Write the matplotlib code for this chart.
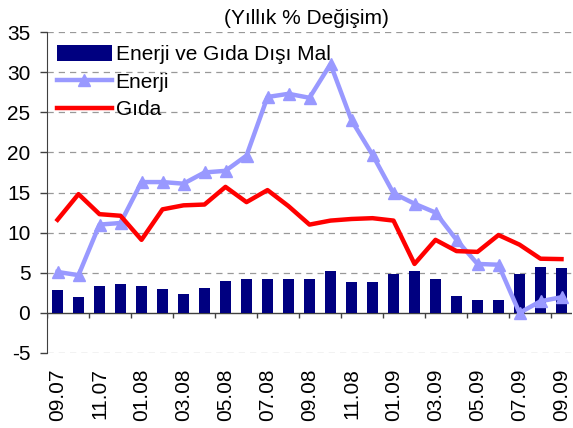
import numpy as np
import matplotlib
matplotlib.use('Agg')
import matplotlib.pyplot as plt

# Months (09.07 .. 09.09)
months = ['09.07', '10.07', '11.07', '12.07', '01.08', '02.08', '03.08', '04.08',
          '05.08', '06.08', '07.08', '08.08', '09.08', '10.08', '11.08', '12.08',
          '01.09', '02.09', '03.09', '04.09', '05.09', '06.09', '07.09', '08.09', '09.09']

# Series
dis_mal = [2.9, 2.0, 3.4, 3.65, 3.4, 3.0, 2.4, 3.15, 4.0, 4.25, 4.25, 4.25,
           4.25, 5.25, 3.9, 3.8, 4.8, 5.25, 4.25, 2.15, 1.55, 1.65, 4.9, 5.75, 5.65]
enerji = [5.1, 4.7, 11.0, 11.2, 16.3, 16.3, 16.1, 17.5, 17.7, 19.6, 26.9, 27.3,
          26.8, 31.0, 24.0, 19.7, 14.9, 13.6, 12.5, 9.1, 6.1, 6.0, 0.0, 1.45, 1.95]
gida = [11.6, 14.8, 12.3, 12.1, 9.1, 12.9, 13.4, 13.5, 15.7, 13.8, 15.3, 13.3,
        11.0, 11.5, 11.7, 11.8, 11.5, 6.1, 9.1, 7.7, 7.6, 9.7, 8.5, 6.75, 6.7]

plt.rcParams['font.family'] = ['Liberation Sans', 'DejaVu Sans']
plt.rcParams['axes.unicode_minus'] = False

fig = plt.figure(figsize=(5.73, 4.28), dpi=100)
ax = fig.add_axes([47 / 573, 75 / 428, 525 / 573, 321 / 428])

x = np.arange(len(months))

# grid
for yv in range(-5, 40, 5):
    if yv != 0:
        ax.axhline(yv, color='#999999', linestyle=(0, (5, 4)), linewidth=0.9, zorder=0)

b = ax.bar(x, dis_mal, width=0.55, color='#000080', zorder=2)
l1, = ax.plot(x, enerji, color='#9999FF', linewidth=3.2, marker='^', markersize=8, zorder=3)
l2, = ax.plot(x, gida, color='#FF0000', linewidth=3.2, zorder=4)

# zero line with tick marks at every second category boundary
ax.axhline(0, color='#404040', linewidth=1.0, zorder=1)
ax.vlines(np.arange(-0.5, len(months), 2), -0.6, 0, color='#404040', linewidth=1.0, zorder=1)

ax.set_xlim(-0.5, len(months) - 0.5)
ax.set_ylim(-5, 35)
ax.set_yticks(range(-5, 40, 5))
ax.set_xticks(x[::2])
ax.set_xticklabels(months[::2], rotation=90, fontsize=15)
ax.tick_params(axis='x', length=0, pad=11)
ax.tick_params(axis='y', labelsize=15, length=5, width=1.0, color='#404040', pad=7)

for s in ['top', 'right', 'bottom']:
    ax.spines[s].set_visible(False)
ax.spines['left'].set_color('#404040')

fig.text(306 / 573, 1 - 18 / 428, '(Yıllık % Değişim)', ha='center', va='center', fontsize=15)

leg = ax.legend([b, l1, l2], ['Enerji ve Gıda Dışı Mal', 'Enerji', 'Gıda'],
                loc='upper left', bbox_to_anchor=(-0.008, 1.004), frameon=False, fontsize=15,
                handlelength=2.6, handleheight=0.75, labelspacing=0.4, borderaxespad=0.3,
                handletextpad=0.2)
leg.set_zorder(1.5)

fig.savefig('out.png', dpi=100)
